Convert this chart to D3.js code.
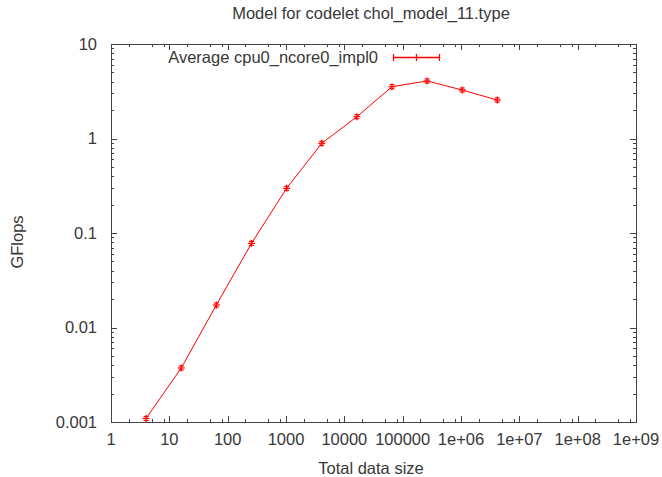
<!DOCTYPE html>
<html><head><meta charset="utf-8">
<script src="https://cdn.jsdelivr.net/npm/d3@7"></script>
<style>body{margin:0;background:#fff;} text{font-family:"Liberation Sans",Arial,sans-serif;}</style>
</head><body>
<svg id="chart" width="662" height="477"></svg>
<script>
const sizes = [4, 16, 64, 256, 1024, 4096, 16384, 65536, 262144, 1048576, 4194304];
const gflops = [0.00109, 0.00373, 0.0173, 0.0778, 0.297, 0.889, 1.70, 3.53, 4.06, 3.26, 2.55];
const xTickValues = [1, 10, 100, 1000, 1e4, 1e5, 1e6, 1e7, 1e8, 1e9];
const xTickLabels = ["1", "10", "100", "1000", "10000", "100000", "1e+06", "1e+07", "1e+08", "1e+09"];
const yTickValues = [0.001, 0.01, 0.1, 1, 10];
const yTickLabels = ["0.001", "0.01", "0.1", "1", "10"];
const titleText = "Model for codelet chol_model_11.type";
const seriesName = "Average cpu0_ncore0_impl0";

const svg = d3.select("#chart");
const L = 111, R = 636, T = 44, B = 422;
const x = d3.scaleLog().domain([1, 1e9]).range([L, R]);
const y = d3.scaleLog().domain([0.001, 10]).range([B, T]);
const textCol = "#383838", axisCol = "#444";
const fs = 16.5;

// minor ticks
const xMinor = [], yMinor = [];
for (let e = 0; e < 9; e++) for (const m of [2, 5, 8]) xMinor.push(m * Math.pow(10, e));
for (let e = -3; e < 1; e++) for (let m = 2; m <= 9; m++) yMinor.push(m * Math.pow(10, e));

const g = svg.append("g").attr("stroke", axisCol).attr("stroke-width", 1).attr("shape-rendering", "crispEdges");
const major = 6, minor = 3;
xTickValues.forEach(v => {
  const px = Math.round(x(v)) + 0.5;
  g.append("line").attr("x1", px).attr("x2", px).attr("y1", B).attr("y2", B - major);
  g.append("line").attr("x1", px).attr("x2", px).attr("y1", T).attr("y2", T + major);
});
xMinor.forEach(v => {
  const px = Math.round(x(v)) + 0.5;
  g.append("line").attr("x1", px).attr("x2", px).attr("y1", B).attr("y2", B - minor);
  g.append("line").attr("x1", px).attr("x2", px).attr("y1", T).attr("y2", T + minor);
});
yTickValues.forEach(v => {
  const py = Math.round(y(v)) + 0.5;
  g.append("line").attr("x1", L).attr("x2", L + major).attr("y1", py).attr("y2", py);
  g.append("line").attr("x1", R).attr("x2", R - major).attr("y1", py).attr("y2", py);
});
yMinor.forEach(v => {
  const py = Math.round(y(v)) + 0.5;
  g.append("line").attr("x1", L).attr("x2", L + minor).attr("y1", py).attr("y2", py);
  g.append("line").attr("x1", R).attr("x2", R - minor).attr("y1", py).attr("y2", py);
});
g.append("rect").attr("x", L + 0.5).attr("y", T + 0.5).attr("width", R - L).attr("height", B - T)
  .attr("fill", "none");

// tick labels
svg.append("g").selectAll("text").data(xTickValues).join("text")
  .attr("x", d => x(d)).attr("y", B + 23).attr("text-anchor", "middle")
  .attr("font-size", fs).attr("fill", textCol).text((d, i) => xTickLabels[i]);
svg.append("g").selectAll("text").data(yTickValues).join("text")
  .attr("x", L - 14).attr("y", d => y(d)).attr("dy", "0.35em").attr("text-anchor", "end")
  .attr("font-size", fs).attr("fill", textCol).text((d, i) => yTickLabels[i]);

// titles
svg.append("text").attr("x", 371).attr("y", 19).attr("text-anchor", "middle")
  .attr("font-size", fs).attr("fill", textCol).text(titleText);
svg.append("text").attr("x", 371).attr("y", 474).attr("text-anchor", "middle")
  .attr("font-size", fs).attr("fill", textCol).text("Total data size");
svg.append("text").attr("transform", "translate(23,242) rotate(-90)").attr("text-anchor", "middle")
  .attr("font-size", fs).attr("fill", textCol).text("GFlops");

// data line
const data = sizes.map((s, i) => ({ s, v: gflops[i] }));
svg.append("path").datum(data)
  .attr("d", d3.line().x(d => x(d.s)).y(d => y(d.v)))
  .attr("fill", "none").attr("stroke", "#ff0000").attr("stroke-width", 1);
const mk = svg.append("g").attr("stroke", "#ff0000").attr("stroke-width", 1.2);
data.forEach(d => {
  const px = x(d.s), py = y(d.v);
  mk.append("line").attr("x1", px).attr("x2", px).attr("y1", py - 3.5).attr("y2", py + 3.5);
  mk.append("line").attr("x1", px - 3.5).attr("x2", px + 3.5).attr("y1", py).attr("y2", py);
  mk.append("line").attr("x1", px - 2.5).attr("x2", px + 2.5).attr("y1", py - 2).attr("y2", py - 2);
  mk.append("line").attr("x1", px - 2.5).attr("x2", px + 2.5).attr("y1", py + 2).attr("y2", py + 2);
});

// legend
svg.append("text").attr("x", 378).attr("y", 57).attr("dy", "0.35em").attr("text-anchor", "end")
  .attr("font-size", fs).attr("fill", textCol).text(seriesName);
const lg = svg.append("g").attr("stroke", "#ff0000").attr("stroke-width", 1.3);
lg.append("line").attr("x1", 393).attr("x2", 440).attr("y1", 57.5).attr("y2", 57.5);
[393.5, 416.5, 439.5].forEach(px => lg.append("line").attr("x1", px).attr("x2", px).attr("y1", 54).attr("y2", 61));
</script>
</body></html>
